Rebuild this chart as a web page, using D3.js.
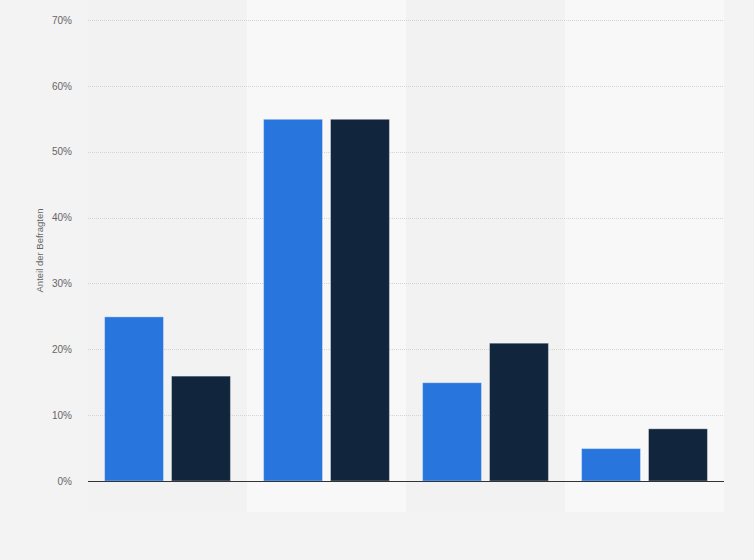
<!DOCTYPE html>
<html>
<head>
<meta charset="utf-8">
<script src="https://cdn.jsdelivr.net/npm/d3@7"></script>
<style>
  html, body { margin: 0; padding: 0; background: #f3f3f3; }
  svg { display: block; }
</style>
</head>
<body>
<div id="chart"></div>
<script>
// Data

var groups = ["g1", "g2", "g3", "g4"],
    series = ["s1", "s2"],
    valuesS1 = [25, 55, 15, 5],
    valuesS2 = [16, 55, 21, 8],
    yTicks = [0, 10, 20, 30, 40, 50, 60, 70],
    yTitle = "Anteil der Befragten";

var colors = ["#2876dd", "#11263c"];

var width = 754,
    height = 560,
    margin = {top: 20, right: 30, bottom: 79, left: 88};

var svg = d3.select("#chart").append("svg")
  .attr("width", width)
  .attr("height", height);

svg.append("rect").attr("width", width).attr("height", height).attr("fill", "#f3f3f3");

var x0 = d3.scaleBand().domain(groups)
  .range([margin.left, width - margin.right]).padding(0);

var x1 = d3.scaleBand().domain(series)
  .range([0, x0.bandwidth()]).paddingInner(0.105).paddingOuter(0.24);

var y = d3.scaleLinear().domain([0, 70])
  .range([height - margin.bottom, margin.top]);

// alternating column bands
svg.append("g").selectAll("rect").data(groups).enter().append("rect")
  .attr("x", function(d){ return x0(d); })
  .attr("y", 0)
  .attr("width", x0.bandwidth())
  .attr("height", 512)
  .attr("fill", function(d, i){ return i % 2 ? "#f8f8f8" : "#f2f2f2"; });

// grid
svg.append("g").selectAll("line").data(yTicks.filter(function(d){ return d > 0; })).enter().append("line")
  .attr("x1", margin.left).attr("x2", width - margin.right)
  .attr("y1", function(d){ return Math.round(y(d)) + 0.5; })
  .attr("y2", function(d){ return Math.round(y(d)) + 0.5; })
  .style("stroke", "#d4d4d4").style("stroke-width", 1).style("stroke-dasharray", "1,1");

// y axis labels
var yAxis = d3.axisLeft(y).tickValues(yTicks).tickSize(0).tickPadding(16)
  .tickFormat(function(d){ return d + "%"; });

var gy = svg.append("g")
  .attr("transform", "translate(" + margin.left + ",0)")
  .call(yAxis);
gy.select(".domain").remove();
gy.selectAll("text")
  .style("font-family", "'Liberation Sans', Arial, sans-serif")
  .style("font-size", "10px")
  .style("fill", "#666");

svg.append("text")
  .attr("transform", "translate(43," + ((height - margin.bottom + margin.top) / 2) + ")rotate(-90)")
  .attr("text-anchor", "middle")
  .style("font-family", "'Liberation Sans', Arial, sans-serif")
  .style("font-size", "9.5px")
  .style("fill", "#666")
  .text(yTitle);

// bars
var data = groups.map(function(g, i){
  return {group: g, vals: [
    {s: series[0], v: valuesS1[i]},
    {s: series[1], v: valuesS2[i]}
  ]};
});

var grp = svg.append("g").selectAll("g").data(data).enter().append("g")
  .attr("transform", function(d){ return "translate(" + x0(d.group) + ",0)"; });

grp.selectAll("rect").data(function(d){ return d.vals; }).enter().append("rect")
  .attr("x", function(d){ return x1(d.s) + 0.5; })
  .attr("y", function(d){ return y(d.v) + 0.5; })
  .attr("width", x1.bandwidth() - 1)
  .attr("height", function(d){ return y(0) - y(d.v) - 0.5; })
  .style("fill", function(d, i){ return colors[i]; })
  .style("stroke", "rgba(255,255,255,0.35)")
  .style("stroke-width", 1);

// baseline
svg.append("line")
  .attr("x1", margin.left).attr("x2", width - margin.right)
  .attr("y1", y(0) + 0.5).attr("y2", y(0) + 0.5)
  .style("stroke", "#333").style("stroke-width", 1.2);
</script>
</body>
</html>
